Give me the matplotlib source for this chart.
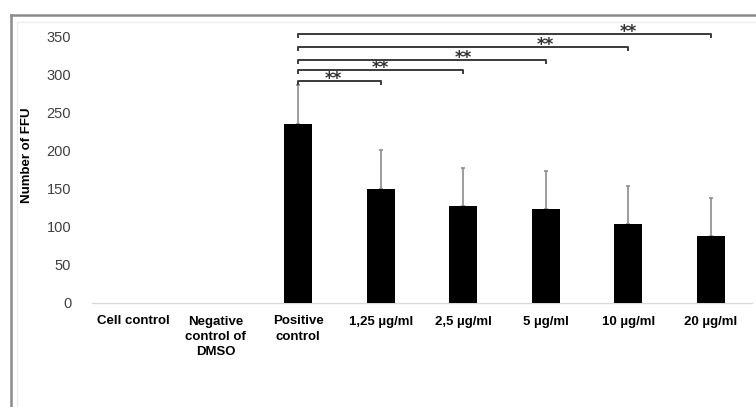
import numpy as np
import matplotlib
matplotlib.use("Agg")
import matplotlib.pyplot as plt
from matplotlib.lines import Line2D

plt.rcParams['font.family'] = ['Liberation Sans', 'DejaVu Sans']

# Data
categories = ['Cell control', 'Negative\ncontrol of\nDMSO', 'Positive\ncontrol',
              '1,25 µg/ml', '2,5 µg/ml', '5 µg/ml', '10 µg/ml', '20 µg/ml']
ffu = [0, 0, 235.5, 150, 127, 124, 103.5, 88]
sd_up = [0, 0, 51.5, 51, 51, 50, 50.5, 50.5]

# significance brackets: from positive control (index 2) to each dose
sig_from = 2
sig_to = [3, 4, 5, 6, 7]
sig_y = [292, 306.5, 320, 337, 354]
sig_star_x = [2.42, 3, 4, 5, 6]
sig_text = ['**', '**', '**', '**', '**']

fig = plt.figure(figsize=(7.56, 4.07), dpi=100)
ax = fig.add_axes([92/756, 1 - 303/407, 660/756, 281.2/407])

x = np.arange(len(categories))
ax.bar(x, ffu, width=0.34, color='black', zorder=3)
ax.errorbar(x[2:], ffu[2:], yerr=[np.zeros(len(x) - 2), sd_up[2:]], fmt='none',
            ecolor='#8c8c8c', elinewidth=1.2, capsize=1.5, capthick=1.2, zorder=2)

ax.set_xlim(-0.5, len(categories) - 0.5)
ax.set_ylim(0, 370)
ax.set_yticks(np.arange(0, 351, 50))
ax.tick_params(axis='y', length=0, pad=15, labelsize=10.5, labelcolor='#404040')
ax.tick_params(axis='x', length=0, pad=9)
ax.set_xticks(x)
ax.set_xticklabels(categories, fontsize=9.5, fontweight='bold', linespacing=1.35)

for s in ['left', 'right', 'top']:
    ax.spines[s].set_visible(False)
ax.spines['bottom'].set_color('#d9d9d9')
ax.spines['bottom'].set_linewidth(1.0)

ax.set_ylabel('Number of FFU', fontsize=9.5, fontweight='bold')
ax.yaxis.set_label_coords(-0.089, 0.526)

# brackets
tick = 4
for t, yb, sx, txt in zip(sig_to, sig_y, sig_star_x, sig_text):
    ax.plot([sig_from, sig_from, t, t], [yb - tick, yb, yb, yb - tick],
            color='#3a3a3a', lw=1.4, clip_on=False, zorder=4)
    ax.text(sx, yb - 4, txt, ha='center', va='baseline', fontsize=12,
            family='DejaVu Sans', fontweight='bold', color='#333333', clip_on=False)

# outer frame of the original figure
fig.add_artist(Line2D([11/756, 11/756], [0, 1 - 15/407], transform=fig.transFigure,
                      color='#8a8a8a', lw=1.8))
fig.add_artist(Line2D([11/756, 1], [1 - 15/407, 1 - 15/407], transform=fig.transFigure,
                      color='#8a8a8a', lw=1.8))
fig.add_artist(Line2D([17/756, 17/756], [0, 1 - 22/407], transform=fig.transFigure,
                      color='#ececec', lw=1.0))
fig.add_artist(Line2D([17/756, 1], [1 - 22/407, 1 - 22/407], transform=fig.transFigure,
                      color='#ececec', lw=1.0))

fig.savefig('out.png', dpi=100)
